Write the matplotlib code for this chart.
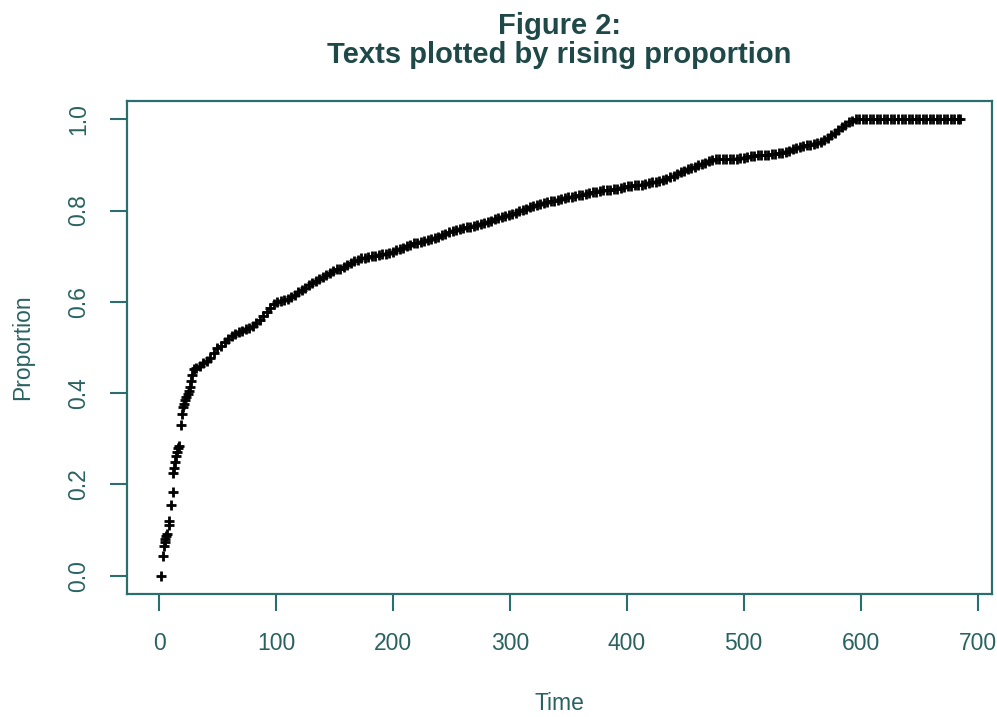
import matplotlib
matplotlib.use("Agg")
import matplotlib.pyplot as plt

# ---- data ----
time_early = [1.5, 3.1, 4.5, 5.0, 5.4, 6.2, 6.8, 8.3, 8.8, 10.2, 11.7, 11.8, 12.6,
              13.9, 14.6, 15.4, 16.4, 17.3, 18.8, 19.4, 20.8, 21.6, 22.5, 23.4,
              24.5, 25.4, 26.4, 27.3, 28.4, 29.6]
prop_early = [0.000, 0.044, 0.066, 0.075, 0.081, 0.088, 0.092, 0.112, 0.119, 0.154,
              0.184, 0.225, 0.236, 0.250, 0.262, 0.271, 0.279, 0.285, 0.330, 0.354,
              0.369, 0.376, 0.384, 0.391, 0.398, 0.405, 0.413, 0.427, 0.440, 0.453]

time_main = [32, 35, 38, 41, 44, 47, 50, 53, 56, 59,
             62, 65, 68, 71, 74, 77, 80, 83, 86, 89,
             92, 95, 98, 101, 104, 107, 110, 113, 116, 119,
             122, 125, 128, 131, 134, 137, 140, 143, 146, 149,
             152, 155, 158, 161, 164, 167, 170, 173, 176, 179,
             182, 185, 188, 191, 194, 197, 200, 203, 206, 209,
             212, 215, 218, 221, 224, 227, 230, 233, 236, 239,
             242, 245, 248, 251, 254, 257, 260, 263, 266, 269,
             272, 275, 278, 281, 284, 287, 290, 293, 296, 299,
             302, 305, 308, 311, 314, 317, 320, 323, 326, 329,
             332, 335, 338, 341, 344, 347, 350, 353, 356, 359,
             362, 365, 368, 371, 374, 377, 380, 383, 386, 389,
             392, 395, 398, 401, 404, 407, 410, 413, 416, 419,
             422, 425, 428, 431, 434, 437, 440, 443, 446, 449,
             452, 455, 458, 461, 464, 467, 470, 473, 476, 479,
             482, 485, 488, 491, 494, 497, 500, 503, 506, 509,
             512, 515, 518, 521, 524, 527, 530, 533, 536, 539,
             542, 545, 548, 551, 554, 557, 560, 563, 566, 569,
             572, 575, 578, 581, 584, 587, 590, 593, 596]
prop_main = [0.456, 0.460, 0.465, 0.470, 0.478, 0.488, 0.498, 0.504, 0.512, 0.519,
             0.525, 0.529, 0.533, 0.537, 0.540, 0.543, 0.548, 0.554, 0.561, 0.569,
             0.578, 0.587, 0.596, 0.600, 0.602, 0.604, 0.607, 0.611, 0.616, 0.622,
             0.627, 0.631, 0.636, 0.641, 0.645, 0.649, 0.654, 0.659, 0.664, 0.668,
             0.671, 0.673, 0.677, 0.681, 0.685, 0.689, 0.692, 0.695, 0.697, 0.699,
             0.700, 0.701, 0.702, 0.704, 0.705, 0.706, 0.709, 0.713, 0.716, 0.719,
             0.722, 0.725, 0.728, 0.730, 0.731, 0.733, 0.735, 0.737, 0.740, 0.743,
             0.746, 0.749, 0.752, 0.755, 0.758, 0.760, 0.762, 0.764, 0.765, 0.767,
             0.768, 0.770, 0.772, 0.775, 0.778, 0.781, 0.784, 0.786, 0.788, 0.790,
             0.793, 0.795, 0.798, 0.801, 0.804, 0.807, 0.810, 0.812, 0.815, 0.817,
             0.818, 0.820, 0.821, 0.823, 0.825, 0.827, 0.829, 0.830, 0.832, 0.834,
             0.835, 0.837, 0.838, 0.840, 0.841, 0.843, 0.844, 0.845, 0.846, 0.847,
             0.848, 0.850, 0.851, 0.853, 0.854, 0.855, 0.856, 0.857, 0.858, 0.860,
             0.862, 0.863, 0.865, 0.867, 0.870, 0.873, 0.876, 0.880, 0.884, 0.887,
             0.890, 0.893, 0.896, 0.899, 0.902, 0.905, 0.908, 0.911, 0.912, 0.912,
             0.912, 0.912, 0.912, 0.913, 0.913, 0.915, 0.916, 0.917, 0.919, 0.920,
             0.921, 0.922, 0.922, 0.922, 0.923, 0.924, 0.925, 0.926, 0.928, 0.931,
             0.934, 0.937, 0.940, 0.942, 0.943, 0.944, 0.945, 0.947, 0.951, 0.955,
             0.960, 0.965, 0.970, 0.976, 0.982, 0.988, 0.993, 0.997, 1.000]

time_flat = [599, 602, 605, 608, 611, 614, 617, 620, 623, 626,
             629, 632, 635, 638, 641, 644, 647, 650, 653, 656,
             659, 662, 665, 668, 671, 674, 677, 680, 683, 685]
prop_flat = [1.0] * len(time_flat)

x_ticks = [0, 100, 200, 300, 400, 500, 600, 700]
y_ticks = [0.0, 0.2, 0.4, 0.6, 0.8, 1.0]
y_tick_labels = ["0.0", "0.2", "0.4", "0.6", "0.8", "1.0"]

title_line1 = "Figure 2:"
title_line2 = "Texts plotted by rising proportion"
x_label = "Time"
y_label = "Proportion"

# ---- drawing ----
plt.rcParams['font.family'] = ['Liberation Sans', 'DejaVu Sans']
axis_col = '#2b6e6e'
text_col = '#2a6262'
W, H = 997, 717

fig = plt.figure(figsize=(W / 100, H / 100), dpi=100)
ax_l, ax_r, ax_t, ax_b = 127, 992, 101, 594
ax = fig.add_axes([ax_l / W, 1 - ax_b / H, (ax_r - ax_l) / W, (ax_b - ax_t) / H])

time_all = time_early + time_main + time_flat
prop_all = prop_early + prop_main + prop_flat
ax.plot(time_all, prop_all, linestyle='none', marker='+', color='black',
        markersize=7, markeredgewidth=2.0)

ax.set_xlim(-27.4, 712.4)
ax.set_ylim(-0.04, 1.04)
ax.set_xticks(x_ticks)
ax.set_xticklabels([str(v) for v in x_ticks])
ax.set_yticks(y_ticks)
ax.set_yticklabels(y_tick_labels, rotation=90, va='center')

for s in ax.spines.values():
    s.set_color(axis_col)
    s.set_linewidth(1.6)
ax.tick_params(axis='both', length=12.5, width=1.5, color=axis_col,
               labelcolor=text_col, labelsize=16.5)
ax.tick_params(axis='x', pad=15)
ax.tick_params(axis='y', pad=14)

cx = (ax_l + ax_r) / 2 / W
fig.text(cx, 1 - 703 / H, x_label, fontsize=16.5, color=text_col,
         ha='center', va='center')
fig.text(23 / W, 1 - 347.5 / H, y_label, fontsize=16.5, color=text_col,
         ha='center', va='center', rotation=90)
fig.text(cx, 1 - 34 / H, title_line1, fontsize=21, fontweight='bold',
         color='#1f4848', ha='center', va='baseline')
fig.text(cx, 1 - 63 / H, title_line2, fontsize=21, fontweight='bold',
         color='#1f4848', ha='center', va='baseline')

fig.savefig("out.png", dpi=100)
